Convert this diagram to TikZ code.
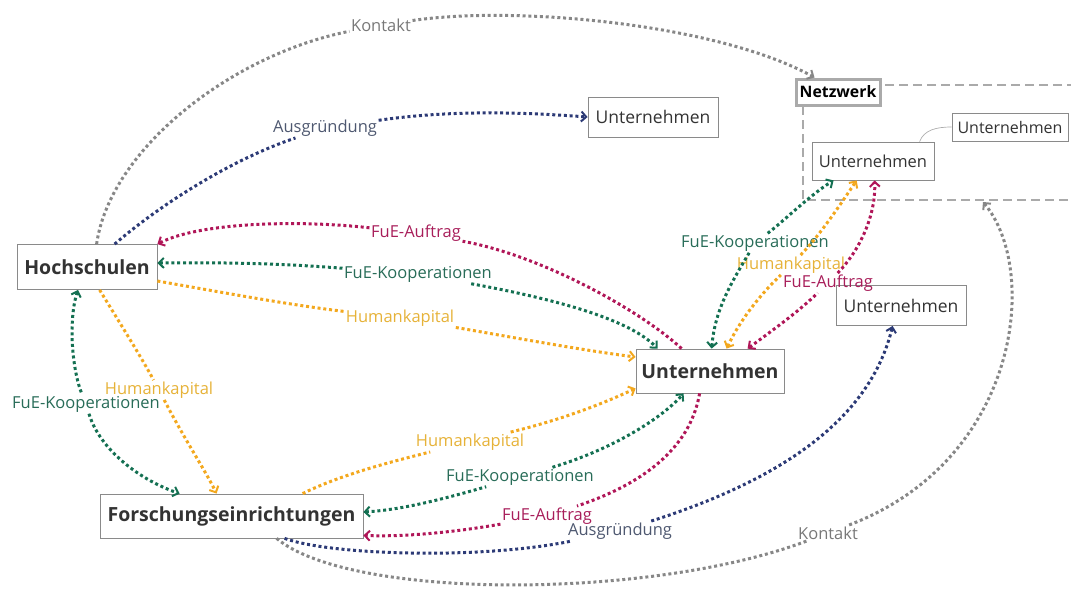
\documentclass[tikz,border=0pt]{standalone}
\usepackage{fontspec}
\setmainfont{Open Sans}
\usetikzlibrary{arrows.meta}
\definecolor{cF}{RGB}{176,22,88}
\definecolor{cFt}{RGB}{168,30,90}
\definecolor{cG}{RGB}{20,112,82}
\definecolor{cGt}{RGB}{40,108,88}
\definecolor{cH}{RGB}{243,168,30}
\definecolor{cHt}{RGB}{230,178,56}
\definecolor{cA}{RGB}{44,58,118}
\definecolor{cAt}{RGB}{78,88,112}
\definecolor{cK}{RGB}{135,135,135}
\definecolor{cKt}{RGB}{120,120,120}
\definecolor{boxgray}{RGB}{138,138,138}
\definecolor{txt}{RGB}{51,51,51}
\definecolor{netgray}{RGB}{170,170,170}
\begin{document}
\begin{tikzpicture}[x=1pt,y=-1pt,
  >={Straight Barb[length=5pt,width=10pt,line width=2pt]},
  box/.style={draw=boxgray, line width=0.8pt, fill=white, text=txt, inner sep=0pt,
    font=\fontsize{17.5}{19}\selectfont},
  bigbox/.style={box, font=\fontsize{19.5}{21}\selectfont\bfseries},
  lbl/.style={inner sep=1.5pt, font=\fontsize{16.5}{18}\selectfont},
  con/.style={line width=3pt, dash pattern=on 3pt off 2.8pt}]
\useasboundingbox (0,0) rectangle (1071,595);
% network frame
\coordinate (netTL) at (803,85);
\coordinate (netBR) at (1090,200);
\coordinate (netB) at (983,202);
\draw[netgray, line width=2.6pt, dash pattern=on 9pt off 5pt] (netBR |- netTL) -- (netTL) -- (netTL |- netBR) -- (netBR);
% nodes
\node[bigbox, minimum width=140pt, minimum height=45pt] (H) at (87,267) {Hochschulen};
\node[bigbox, minimum width=263pt, minimum height=44pt] (F) at (231.5,516) {Forschungseinrichtungen};
\node[bigbox, minimum width=148pt, minimum height=44pt] (U) at (710,371) {Unternehmen};
\node[box, minimum width=130pt, minimum height=40pt] (U1) at (653,117) {Unternehmen};
\node[box, minimum width=122pt, minimum height=38pt, font=\fontsize{16.5}{18}\selectfont] (U2) at (873,161) {Unternehmen};
\node[box, minimum width=116pt, minimum height=28pt, font=\fontsize{16}{18}\selectfont] (U3) at (1010,127) {Unternehmen};
\node[box, minimum width=130pt, minimum height=40pt] (U4) at (901,305.5) {Unternehmen};
\node[draw=netgray, line width=3pt, fill=white, text=black, inner sep=0pt,
  minimum width=84pt, minimum height=26pt, font=\fontsize{15.8}{17}\selectfont\bfseries] (N) at (838,92) {Netzwerk};
\draw[boxgray!70, line width=0.7pt] ([xshift=108pt]U2.north west) .. controls (924,130) and (936,127) .. (U3.west);
% labels
\node[lbl,text=cKt] (LK1) at (381,25) {Kontakt};
\node[lbl,text=cAt] (LA1) at (325,128) {Ausgründung};
\node[lbl,text=cFt] (LF1) at (416,233) {FuE-Auftrag};
\node[lbl,text=cGt] (LG1) at (418,274) {FuE-Kooperationen};
\node[lbl,text=cHt] (LH1) at (400,318) {Humankapital};
\node[lbl,text=cGt] (LG2) at (86,404) {FuE-Kooperationen};
\node[lbl,text=cHt] (LH2) at (159,390) {Humankapital};
\node[lbl,text=cHt] (LH3) at (470,442) {Humankapital};
\node[lbl,text=cGt] (LG3) at (520,477) {FuE-Kooperationen};
\node[lbl,text=cFt] (LF2) at (547,516) {FuE-Auftrag};
\node[lbl,text=cAt] (LA2) at (620,531) {Ausgründung};
\node[lbl,text=cKt] (LK2) at (828,533) {Kontakt};
\node[lbl,text=cGt] (LG4) at (755,243) {FuE-Kooperationen};
\node[lbl,text=cHt] (LH4) at (791,265) {Humankapital};
\node[lbl,text=cFt] (LF3) at (828,283) {FuE-Auftrag};
% E1 Kontakt top
\draw[con,cK] ([xshift=80pt]H.north west) .. controls (110,150) and (230,55) .. (LK1);
\draw[con,cK,->] (LK1) .. controls (520,5) and (720,25) .. ([xshift=20pt]N.north west);
% E2 Ausgruendung top
\draw[con,cA] ([xshift=98pt]H.north west) .. controls (160,205) and (230,160) .. (LA1);
\draw[con,cA,->] (LA1) .. controls (450,110) and (520,112) .. (U1.west);
% E3 FuE-Auftrag U -> H
\draw[con,cF] ([xshift=46pt]U.north west) .. controls (640,310) and (540,255) .. (LF1);
\draw[con,cF,->] (LF1) .. controls (300,220) and (200,222) .. (H.north east);
% E4 FuE-Kooperationen H <-> U
\draw[con,cG,<-] ([yshift=4pt]H.east) .. controls (250,262) and (300,265) .. (LG1);
\draw[con,cG,->] (LG1) .. controls (560,300) and (630,320) .. ([xshift=22pt]U.north west);
% E5 Humankapital H -> U
\draw[con,cH] ([yshift=-14pt]H.east) .. controls (220,292) and (290,305) .. (LH1);
\draw[con,cH,->] (LH1) .. controls (500,335) and (580,350) .. ([yshift=14pt]U.west);
% E6 FuE-Kooperationen H <-> F
\draw[con,cG,<-] ([xshift=-9pt]H.south) .. controls (68,320) and (72,370) .. (LG2);
\draw[con,cG,->] (LG2) .. controls (100,450) and (140,480) .. ([xshift=80pt]F.north west);
% E7 Humankapital H -> F
\draw[con,cH] ([xshift=83pt]H.south west) .. controls (118,320) and (140,355) .. (LH2);
\draw[con,cH,->] (LH2) .. controls (185,440) and (205,470) .. ([xshift=117pt]F.north west);
% E8 Humankapital F -> U
\draw[con,cH] ([xshift=203pt]F.north west) .. controls (340,475) and (390,462) .. (LH3);
\draw[con,cH,->] (LH3) .. controls (560,420) and (600,405) .. ([yshift=5pt]U.south west);
% E9 FuE-Kooperationen F <-> U
\draw[con,cG,<-] ([yshift=4pt]F.east) .. controls (400,510) and (440,500) .. (LG3);
\draw[con,cG,->] (LG3) .. controls (610,450) and (660,420) .. ([xshift=48pt]U.south west);
% E10 FuE-Auftrag U -> F
\draw[con,cF] ([xshift=64pt]U.south west) .. controls (690,450) and (640,485) .. (LF2);
\draw[con,cF,->] (LF2) .. controls (450,533) and (400,537) .. ([yshift=3pt]F.south east);
% E11 Ausgruendung F -> U4
\draw[con,cA] ([xshift=185pt]F.south west) .. controls (330,555) and (480,560) .. (LA2);
\draw[con,cA,->] (LA2) .. controls (780,480) and (870,420) .. ([xshift=57pt]U4.south west);
% E12 Kontakt F -> Netzwerk
\draw[con,cK] ([xshift=177pt]F.south west) .. controls (350,600) and (650,600) .. (LK2);
\draw[con,cK,->] (LK2) .. controls (1020,460) and (1040,270) .. (netB);
% E13-E15 U <-> U2
\draw[con,cG,<-] ([xshift=76pt]U.north west) .. controls (715,310) and (730,285) .. (LG4);
\draw[con,cG,->] (LG4) .. controls (785,220) and (810,195) .. ([xshift=22pt]U2.south west);
\draw[con,cH,<-] ([xshift=91pt]U.north west) .. controls (740,320) and (760,295) .. (LH4);
\draw[con,cH,->] (LH4) .. controls (820,235) and (840,205) .. ([xshift=45pt]U2.south west);
\draw[con,cF,<-] ([xshift=112pt]U.north west) .. controls (780,325) and (800,310) .. (LF3);
\draw[con,cF,->] (LF3) .. controls (860,250) and (876,215) .. ([xshift=63pt]U2.south west);
\end{tikzpicture}
\end{document}
